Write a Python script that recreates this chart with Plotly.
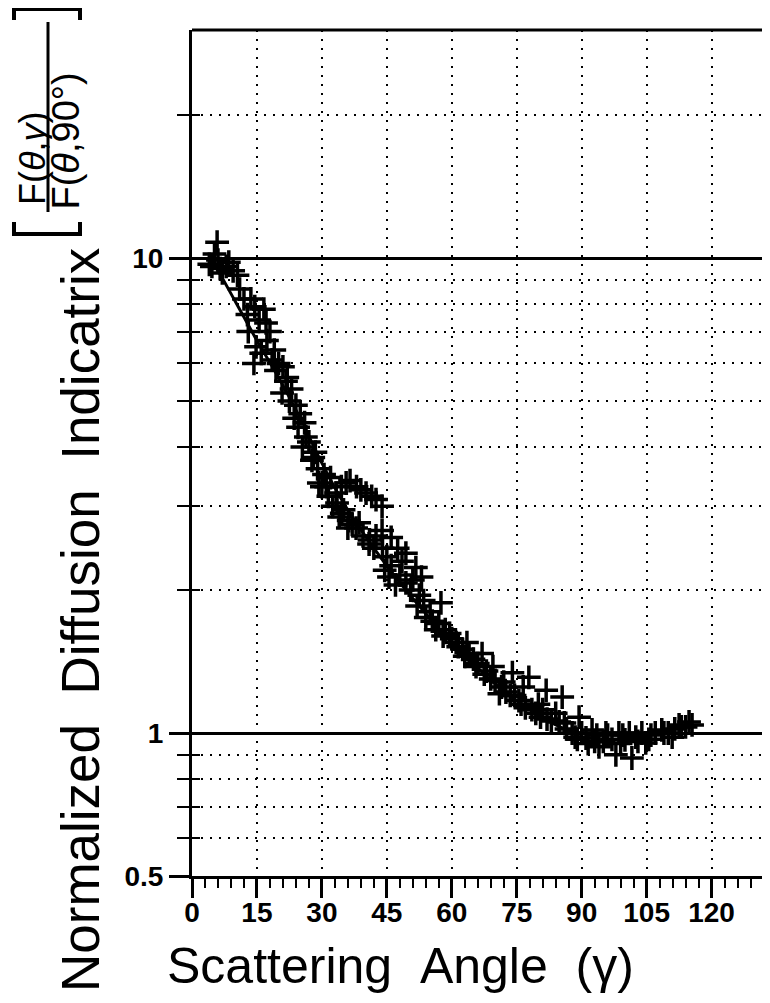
import plotly.graph_objects as go

# measured points (scattering angle in degrees, normalized indicatrix)
gamma_pts = [4.0, 4.6, 5.8, 5.2, 6.5, 7.9, 9.5, 10.5, 12.0, 13.6, 14.5, 16.6, 17.1, 14.8,
             17.3, 14.3, 16.0, 19.4, 18.5, 21.7, 20.8, 22.5, 23.6, 24.5, 26.3, 25.5, 27.7,
             28.5, 29.3, 30.5, 31.0, 32.0, 33.3, 34.5, 35.6, 36.5, 38.0, 39.0, 40.2, 41.5,
             42.5, 43.9, 34.0, 34.6, 36.2, 37.9, 38.6, 40.9, 42.0, 43.9, 46.0, 45.0, 47.5,
             49.4, 45.5, 47.0, 49.4, 51.7, 53.0, 57.5, 52.0, 54.0, 55.0, 56.3, 58.0, 59.5,
             61.0, 62.5, 64.0, 65.6, 67.0, 68.0, 70.0, 71.0, 72.0, 74.0, 73.5, 75.5, 77.8,
             77.0, 79.4, 80.0, 81.8, 82.0, 84.8, 85.5, 86.5, 87.8, 89.4, 89.0, 91.0, 92.4,
             93.0, 94.0, 95.6, 97.0, 97.9, 98.6, 100.0, 101.6, 102.5, 103.9, 104.8, 106.0,
             108.5, 110.0, 110.9, 112.5, 113.0, 114.8, 115.5,
             6.0, 7.0, 8.5, 11.0, 12.8, 13.0, 15.5, 18.0, 19.0, 20.0, 21.0, 22.0, 23.0,
             24.0, 25.0, 26.0, 27.0, 28.0, 29.0, 30.0, 31.5, 32.5, 33.5, 35.0, 36.0, 37.0,
             39.5, 41.0, 42.5, 44.0, 44.5, 46.0, 48.0, 48.5, 50.5, 51.0, 52.5, 53.5, 55.5,
             57.0, 58.5, 60.0, 61.5, 63.0, 63.5, 65.0, 66.0, 67.5, 69.0, 69.5, 71.5, 72.5,
             74.5, 76.0, 76.5, 78.5, 80.5, 81.0, 83.0, 84.0, 86.0, 88.5, 90.0, 91.5, 93.5,
             95.0, 96.0, 99.0, 99.5, 101.0, 103.0, 105.5, 107.0, 109.0, 111.5, 114.0]
ratio_pts = [9.7, 9.6, 10.8, 10.2, 9.5, 9.6, 9.4, 9.2, 8.2, 8.2, 7.9, 7.8, 7.3, 6.5,
             6.7, 6.0, 6.3, 5.8, 6.1, 5.5, 5.2, 5.0, 4.6, 4.4, 4.2, 4.0, 3.75,
             3.9, 3.36, 3.5, 3.3, 3.45, 3.2, 3.3, 3.36, 3.4, 3.3, 3.25, 3.2, 3.15,
             3.1, 3.0, 2.85, 2.9, 2.8, 2.7, 2.77, 2.5, 2.45, 2.67, 2.58, 2.35, 2.45,
             2.39, 2.13, 2.05, 2.07, 2.23, 2.13, 1.88, 1.85, 1.75, 1.8, 1.65, 1.6, 1.62,
             1.55, 1.5, 1.47, 1.38, 1.47, 1.35, 1.29, 1.21, 1.28, 1.34, 1.2, 1.17, 1.31,
             1.13, 1.1, 1.15, 1.23, 1.07, 1.055, 1.19, 1.02, 1.0, 1.08, 0.97, 0.976, 1.015,
             0.96, 0.935, 1.0, 0.97, 0.9, 1.0, 0.967, 0.886, 0.98, 1.0, 0.953, 0.99,
             1.015, 1.0, 0.98, 1.04, 1.03, 1.055, 1.04,
             9.9, 9.3, 9.8, 8.6, 7.6, 7.0, 7.4, 7.0, 6.4, 6.0, 5.9, 5.6, 5.3,
             4.9, 4.7, 4.5, 4.1, 3.8, 3.6, 3.3, 3.15, 3.0, 3.05, 2.95, 2.7, 2.75,
             2.6, 2.55, 2.6, 2.45, 2.2, 2.25, 2.15, 2.3, 2.0, 2.1, 1.95, 1.9, 1.72,
             1.7, 1.65, 1.58, 1.52, 1.45, 1.55, 1.43, 1.4, 1.33, 1.3, 1.38, 1.25, 1.22,
             1.2, 1.15, 1.25, 1.12, 1.08, 1.12, 1.06, 1.1, 1.05, 0.98, 1.0, 0.95, 0.99,
             0.96, 0.99, 0.95, 0.99, 1.0, 0.96, 0.97, 1.0, 1.0, 1.02, 1.03]

# fitted curve
fit_gamma = [4, 6, 10, 15, 20, 25, 30, 35, 40, 45, 50, 55, 60, 65, 70, 75, 80, 85, 90]
fit_ratio = [10.0, 9.4, 8.1, 6.7, 5.6, 4.6, 3.7, 3.05, 2.6, 2.25, 1.97, 1.74, 1.55, 1.4,
             1.27, 1.17, 1.09, 1.03, 0.99]

x_ticks = [0, 15, 30, 45, 60, 75, 90, 105, 120]
y_major = [0.5, 1, 10]
y_labels = ["0.5", "1", "10"]
y_minor = [0.6, 0.7, 0.8, 0.9, 2, 3, 4, 5, 6, 7, 8, 9, 20]

# page has an 8px body margin, so the figure is a bit smaller than the window
W, H = 762, 995
L, R, T, B = 184, 0, 22, 127
pw, ph = W - L - R, H - T - B


def px(x):  # page pixel -> paper
    return (x - 8 - L) / pw


def py(y):
    return (H - B + 8 - y) / ph


FONT = "Liberation Sans, Arial, sans-serif"
DOTS = "2px,7px"
TICKFONT = dict(size=28, weight="bold")

fig = go.Figure()
fig.add_trace(go.Scatter(x=fit_gamma, y=fit_ratio, mode="lines",
                         line=dict(color="black", width=3, shape="spline"),
                         showlegend=False))
fig.add_trace(go.Scatter(x=gamma_pts, y=ratio_pts, mode="markers",
                         marker=dict(symbol="cross-thin", size=17, color="black",
                                     line=dict(color="black", width=3.5)),
                         showlegend=False))
# empty traces so the overlay axes (extra tick marks) are drawn
fig.add_trace(go.Scatter(x=[None], y=[None], yaxis="y2", showlegend=False))
fig.add_trace(go.Scatter(x=[None], y=[None], xaxis="x2", showlegend=False))

fig.update_layout(
    width=W, height=H,
    margin=dict(l=L, r=R, t=T, b=B),
    paper_bgcolor="white", plot_bgcolor="white",
    font=dict(family=FONT, color="black"),
    xaxis=dict(
        range=[0, 133.5], tickvals=x_ticks, ticks="outside", ticklen=9, tickwidth=2.5,
        tickcolor="black", showline=True, linecolor="black", linewidth=3,
        showgrid=True, gridcolor="black", gridwidth=2, griddash=DOTS, zeroline=False,
        tickfont=TICKFONT,
        minor=dict(dtick=3, tick0=0, ticks="outside", ticklen=9, tickwidth=2,
                   tickcolor="black", showgrid=False),
    ),
    # long major ticks on the x axis, without labels
    xaxis2=dict(
        range=[0, 133.5], overlaying="x", side="bottom", anchor="y",
        tickvals=x_ticks, ticks="outside", ticklen=21, tickwidth=2.5, tickcolor="black",
        showticklabels=False, showgrid=False, zeroline=False, showline=False,
    ),
    yaxis=dict(
        type="log", range=[-0.30103, 1.48], tickvals=y_major, ticktext=y_labels,
        ticks="outside", ticklen=20, tickwidth=2.5, tickcolor="black",
        showline=True, linecolor="black", linewidth=3,
        showgrid=True, gridcolor="black", gridwidth=3, zeroline=False,
        tickfont=TICKFONT,
        minor=dict(tickvals=y_minor, ticks="outside", ticklen=12, tickwidth=2,
                   tickcolor="black", showgrid=True, gridcolor="black", gridwidth=2,
                   griddash=DOTS),
    ),
    # short inside ticks so the y ticks cross the axis line
    yaxis2=dict(
        type="log", range=[-0.30103, 1.48], overlaying="y", side="left", anchor="x",
        tickvals=y_major, ticks="inside", ticklen=8, tickwidth=2.5, tickcolor="black",
        showticklabels=False, showgrid=False, zeroline=False,
        minor=dict(tickvals=y_minor, ticks="inside", ticklen=8, tickwidth=2,
                   tickcolor="black", showgrid=False),
    ),
)

# top frame line
fig.add_shape(type="line", xref="paper", yref="paper", x0=0, x1=1, y0=1, y1=1,
              line=dict(color="black", width=3))

# axis titles
fig.add_annotation(text="Normalized\u00a0\u00a0Diffusion\u00a0\u00a0Indicatrix",
                   xref="paper", yref="paper", x=px(80), y=py(620), textangle=-90,
                   showarrow=False, font=dict(size=53), xanchor="center", yanchor="middle")
fig.add_annotation(text="Scattering\u00a0\u00a0Angle\u00a0\u00a0(γ)",
                   xref="paper", yref="paper", x=px(400), y=py(966),
                   showarrow=False, font=dict(size=50), xanchor="center", yanchor="middle")

# bracketed ratio F(θ,γ) / F(θ,90°)
fig.add_annotation(text="F(<i>θ</i>,<i>γ</i>)", xref="paper", yref="paper",
                   x=px(32), y=py(207), textangle=-90, showarrow=False,
                   font=dict(size=36), xanchor="center", yanchor="bottom")
fig.add_annotation(text="F(<i>θ</i>,90°)", xref="paper", yref="paper",
                   x=px(66), y=py(212), textangle=-90, showarrow=False,
                   font=dict(size=38), xanchor="center", yanchor="bottom")
fig.add_shape(type="line", xref="paper", yref="paper",
              x0=px(48), x1=px(48), y0=py(212), y1=py(22),
              line=dict(color="black", width=3))
# brackets (rotated)
fig.add_shape(type="path", xref="paper", yref="paper",
              path=f"M {px(14)},{py(222)} L {px(14)},{py(234)} L {px(80)},{py(234)} L {px(80)},{py(222)}",
              line=dict(color="black", width=4))
fig.add_shape(type="path", xref="paper", yref="paper",
              path=f"M {px(14)},{py(20)} L {px(14)},{py(9)} L {px(80)},{py(9)} L {px(80)},{py(20)}",
              line=dict(color="black", width=4))

fig.write_html("out.html")
